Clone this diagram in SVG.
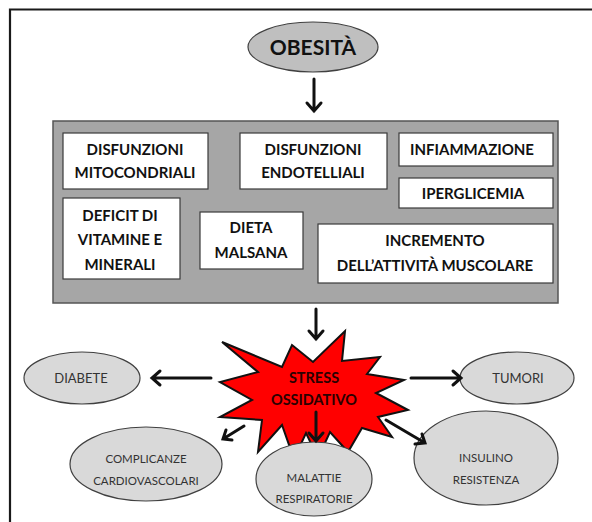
<svg xmlns="http://www.w3.org/2000/svg" width="592" height="522" viewBox="0 0 592 522">
<defs>
<style>
.box{fill:#fff;stroke:#3a3a3a;stroke-width:1.2}
.bt{font-family:Lato,"Open Sans",sans-serif;font-weight:bold;font-size:15px;fill:#111;text-anchor:middle}
.ell{fill:#d9d9d9;stroke:#404040;stroke-width:1.2}
.et{font-family:Lato,"Open Sans",sans-serif;font-size:13px;fill:#333;text-anchor:middle}
.es{font-family:Lato,"Open Sans",sans-serif;font-size:11.5px;fill:#333;text-anchor:middle}
.arr{stroke:#111;stroke-width:3;fill:none;stroke-linecap:round;stroke-linejoin:miter}
</style>
</defs>
<rect width="592" height="522" fill="#fff"/>
<path d="M10,522 V9.5 H592" fill="none" stroke="#1a1a1a" stroke-width="2.2"/>

<g id="obesita">
<ellipse cx="313" cy="47" rx="65" ry="25" class="ell" fill="#bfbfbf" style="fill:#bfbfbf"/>
<text x="313" y="55" class="bt" style="font-size:21px">OBESITÀ</text>
</g>

<g id="cause">
<rect x="53" y="121" width="505" height="182" fill="#a6a6a6" stroke="#555" stroke-width="1.5"/>
<g id="n-mito">
<rect x="63" y="133" width="145" height="56" class="box"/>
<text x="135" y="155" class="bt">DISFUNZIONI</text>
<text x="135" y="178" class="bt">MITOCONDRIALI</text>
</g>
<g id="n-endo">
<rect x="240" y="133" width="147" height="56" class="box"/>
<text x="313" y="155" class="bt">DISFUNZIONI</text>
<text x="313" y="178" class="bt">ENDOTELLIALI</text>
</g>
<g id="n-infiam">
<rect x="399" y="133" width="154" height="33" class="box"/>
<text x="472" y="155" class="bt">INFIAMMAZIONE</text>
</g>
<g id="n-iper">
<rect x="399" y="178" width="154" height="30" class="box"/>
<text x="473" y="199" class="bt">IPERGLICEMIA</text>
</g>
<g id="n-deficit">
<rect x="63" y="198" width="117" height="81" class="box"/>
<text x="120" y="221" class="bt">DEFICIT DI</text>
<text x="120" y="245" class="bt">VITAMINE E</text>
<text x="120" y="270" class="bt">MINERALI</text>
</g>
<g id="n-dieta">
<rect x="200" y="212" width="103" height="57" class="box"/>
<text x="251" y="233" class="bt">DIETA</text>
<text x="251" y="258" class="bt">MALSANA</text>
</g>
<g id="n-incr">
<rect x="318" y="224" width="235" height="59" class="box"/>
<text x="435" y="246" class="bt">INCREMENTO</text>
<text x="435" y="271" class="bt">DELL’ATTIVITÀ MUSCOLARE</text>
</g>
</g>

<g id="stress">
<polygon points="222,342 282,367 292,345 313,362 345,331 342,361 380,357 367,374 404,380 376,393 408,410 378,417 392,437 362,428 348,452 330,432 318,458 306,433 294,459 282,425 258,452 262,420 220,417 252,400 220,382 258,372" fill="#ff0000" stroke="#111" stroke-width="2" stroke-linejoin="miter"/>
<text x="314" y="383" class="bt" style="font-size:14.5px;fill:#2a0000">STRESS</text>
<text x="314" y="405" class="bt" style="font-size:14.5px;fill:#2a0000">OSSIDATIVO</text>
</g>

<g id="diabete">
<ellipse cx="82" cy="378" rx="58" ry="26" class="ell"/>
<text x="81" y="383" class="et">DIABETE</text>
</g>
<g id="tumori">
<ellipse cx="517" cy="378" rx="57" ry="26" class="ell"/>
<text x="518" y="383" class="et">TUMORI</text>
</g>
<g id="cardio">
<ellipse cx="146" cy="464" rx="76" ry="37" class="ell"/>
<text x="146" y="463" class="es">COMPLICANZE</text>
<text x="146" y="485" class="es">CARDIOVASCOLARI</text>
</g>
<g id="respir">
<ellipse cx="314" cy="479" rx="58" ry="37" class="ell"/>
<text x="314" y="482" class="es">MALATTIE</text>
<text x="314" y="503" class="es">RESPIRATORIE</text>
</g>
<g id="insulino">
<ellipse cx="486" cy="458" rx="72" ry="47" class="ell"/>
<text x="486" y="462" class="es">INSULINO</text>
<text x="486" y="484" class="es">RESISTENZA</text>
</g>

<g id="connectors">
<path class="arr" d="M314,79 V111 M307,103 L314,111 L321,103"/>
<path class="arr" d="M316,309 V339 M309,331 L316,339 L323,331"/>
<path class="arr" d="M211,378 H152 M160,371 L152,378 L160,385"/>
<path class="arr" d="M411,378 H461 M453,371 L461,378 L453,385"/>
<path class="arr" d="M244,426 L223,439 M226,430 L223,439 L232,440"/>
<path class="arr" d="M316,412 V441 M309,433 L316,441 L323,433"/>
<path class="arr" d="M386,420 L425,443 M415,444 L425,443 L422,434"/>
</g>
</svg>
